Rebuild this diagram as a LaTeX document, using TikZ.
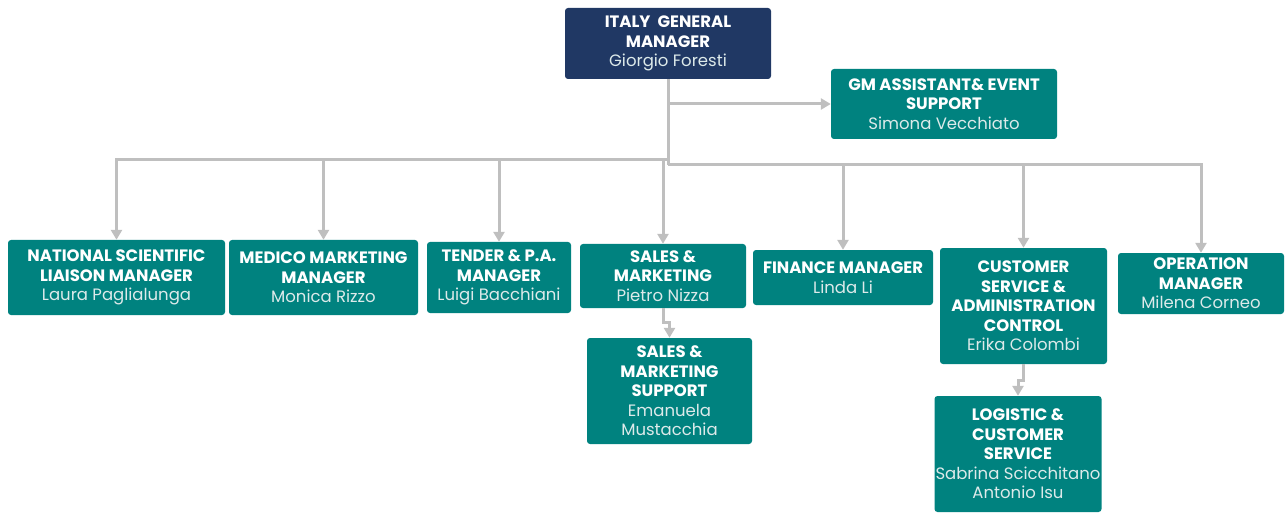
\documentclass[tikz,border=0pt]{standalone}
\usepackage{fontspec}
\setmainfont{Poppins}
\usetikzlibrary{arrows.meta,positioning}
\definecolor{orgteal}{HTML}{00827F}
\definecolor{orgnavy}{HTML}{203864}
\definecolor{orgline}{HTML}{BFBFBF}
\definecolor{orgname}{HTML}{DDEAEA}
\tikzstyle{unit}=[rectangle,rounded corners=3pt,fill=orgteal,text=white,align=center,inner sep=1pt,font=\fontsize{16.5}{19.5}\selectfont\bfseries]
\tikzstyle{head}=[unit,fill=orgnavy]
\tikzstyle{link}=[draw=orgline,line width=3pt]
\tikzstyle{arrowlink}=[link,-{Triangle[width=11pt,length=10pt]}]
\newcommand{\who}[1]{{\mdseries\color{orgname}#1}}

\begin{document}
\begin{tikzpicture}[x=1pt,y=-1pt]
\useasboundingbox (0,0) rectangle (1285,513);
\node[head,minimum width=206,minimum height=71] (gm) at (668,43.5) {ITALY\ \ GENERAL\\MANAGER\\\who{Giorgio Foresti}};
\node[unit,minimum width=226,minimum height=70] (asst) at (944,104) {GM ASSISTANT\& EVENT\\SUPPORT\\\who{Simona Vecchiato}};
%\node (ceo) at (668,0) {};
\node[unit,minimum width=217,minimum height=75] (nsl) at (116.5,277.5) {NATIONAL SCIENTIFIC\\LIAISON MANAGER\\\who{Laura Paglialunga}};
\node[unit,minimum width=189,minimum height=75] (med) at (323.5,277.5) {MEDICO MARKETING\\MANAGER\\\who{Monica Rizzo}};
\node[unit,minimum width=144,minimum height=71] (tpa) at (499,277.5) {TENDER \& P.A.\\MANAGER\\\who{Luigi Bacchiani}};
\node[unit,minimum width=166,minimum height=64] (sm) at (663,276) {SALES \&\\MARKETING\\\who{Pietro Nizza}};
\node[unit,minimum width=180,minimum height=55] (fin) at (843,277.5) {FINANCE MANAGER\\\who{Linda Li}};
\node[unit,minimum width=167,minimum height=116] (csa) at (1023.5,306) {CUSTOMER\\SERVICE \&\\ADMINISTRATION\\CONTROL\\\who{Erika Colombi}};
\node[unit,minimum width=166,minimum height=61] (ops) at (1201,283.5) {OPERATION\\MANAGER\\\who{Milena Corneo}};
\node[unit,minimum width=165,minimum height=106] (sms) at (669.5,391) {SALES \&\\MARKETING\\SUPPORT\\\who{Emanuela}\\\who{Mustacchia}};
\node[unit,minimum width=166,minimum height=116] (lcs) at (1018,454) {LOGISTIC \&\\CUSTOMER\\SERVICE\\\who{Sabrina Scicchitano}\\\who{Antonio Isu}};
\coordinate (lbar) at (668,160);
\coordinate (rbar) at (668,165);
\draw[link] (gm.south) -- (rbar);
\draw[arrowlink] (gm.south |- asst.west) -- (asst.west);
\foreach \n in {nsl,med,tpa,sm}
  \draw[arrowlink] (lbar) -| (\n.north);
\foreach \n in {fin,csa,ops}
  \draw[arrowlink] (rbar) -| (\n.north);
\draw[arrowlink] (sm.south) -- ++(0,14) -| (sms.north);
\draw[arrowlink] (csa.south) -- ++(0,16) -| (lcs.north);
\end{tikzpicture}
\end{document}
